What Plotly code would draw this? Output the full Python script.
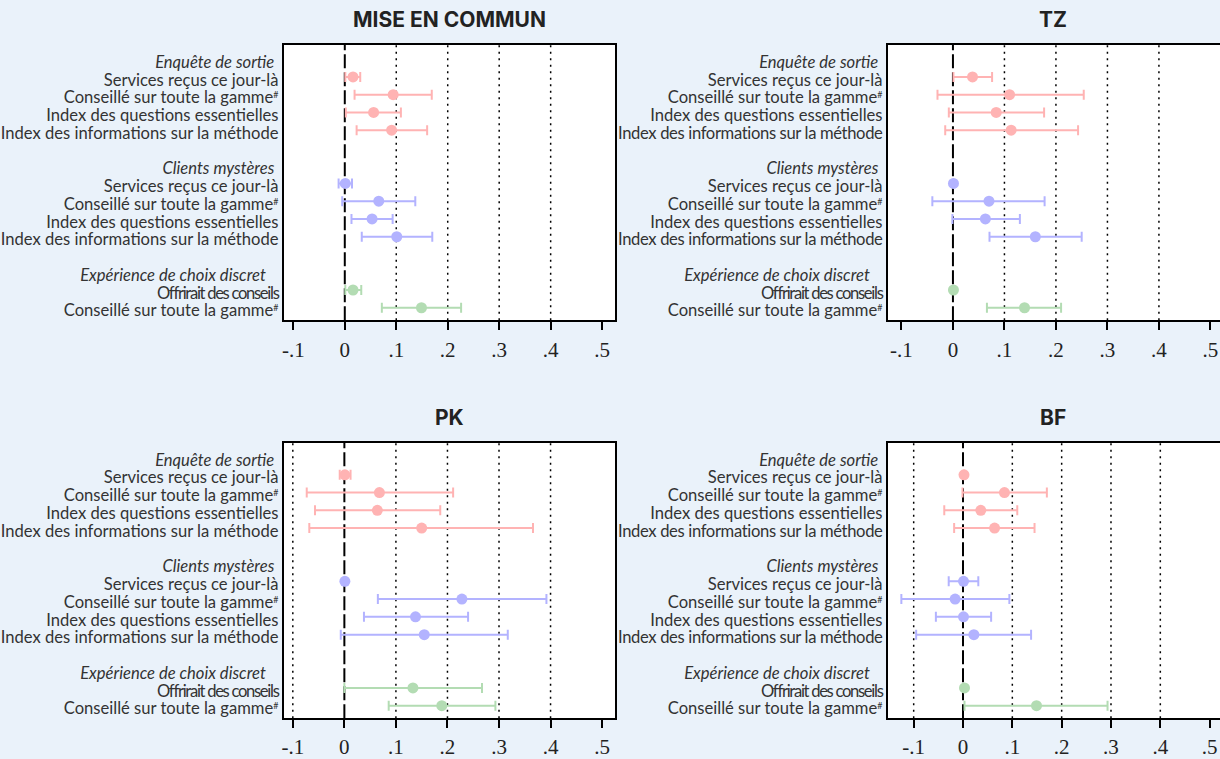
import plotly.graph_objects as go

# Small raised "#" marker used after "gamme"
HASH = "<span style=\"font-size:9px;baseline-shift:5px\">#</span>"

# Row labels (top to bottom) and their row positions; rows 5 and 11 are spacers
ROW_LABELS = [
    "<i>Enquête de sortie</i>\u00a0",
    "Services reçus ce jour-là",
    "Conseillé sur toute la gamme" + HASH,
    "Index des questions essentielles",
    "Index des informations sur la méthode",
    "<i>Clients mystères</i>\u00a0",
    "Services reçus ce jour-là",
    "Conseillé sur toute la gamme" + HASH,
    "Index des questions essentielles",
    "Index des informations sur la méthode",
    "<i>Expérience de choix discret</i>\u00a0\u00a0\u00a0",
    "<span style=\"letter-spacing:-1.3px\">Offrirait des conseils</span>",
    "Conseillé sur toute la gamme" + HASH,
]
ROW_POS = [0, 1, 2, 3, 4, 6, 7, 8, 9, 10, 12, 13, 14]

# Right-hand panels: the longest label is set a little tighter to stay clear of the left box
TIGHT = "<span style=\"letter-spacing:-0.35px\">{}</span>"
ROW_LABELS_RIGHT = [TIGHT.format(t) if t.startswith("Index des informations") else t
                    for t in ROW_LABELS]

# Positions of the ten estimated outcomes and the source group of each
ITEM_POS = [1, 2, 3, 4, 7, 8, 9, 10, 13, 14]
GROUPS = {
    "sortie": [0, 1, 2, 3],
    "mysteres": [4, 5, 6, 7],
    "choix": [8, 9],
}
GROUP_COLORS = {"sortie": "#FFB3B3", "mysteres": "#B3B3FF", "choix": "#B3DCB3"}

# Point estimates and 95% confidence bounds (None = no interval)
POOLED_EST = [0.016, 0.094, 0.056, 0.091, 0.001, 0.066, 0.053, 0.101, 0.016, 0.149]
POOLED_LO = [0.001, 0.019, 0.002, 0.023, -0.012, -0.005, 0.013, 0.033, 0.001, 0.072]
POOLED_HI = [0.030, 0.169, 0.109, 0.160, 0.014, 0.137, 0.093, 0.170, 0.032, 0.226]

TZ_EST = [0.038, 0.110, 0.084, 0.113, 0.001, 0.070, 0.063, 0.160, 0.001, 0.139]
TZ_LO = [0.001, -0.030, -0.008, -0.015, None, -0.040, -0.001, 0.071, None, 0.066]
TZ_HI = [0.076, 0.254, 0.177, 0.243, None, 0.178, 0.130, 0.250, None, 0.210]

PK_EST = [0.001, 0.068, 0.064, 0.150, 0.001, 0.228, 0.138, 0.155, 0.133, 0.189]
PK_LO = [-0.009, -0.073, -0.057, -0.068, None, 0.065, 0.038, -0.007, 0.000, 0.086]
PK_HI = [0.012, 0.211, 0.186, 0.366, None, 0.392, 0.240, 0.317, 0.267, 0.293]

BF_EST = [0.002, 0.084, 0.036, 0.064, 0.001, -0.016, 0.001, 0.022, 0.003, 0.149]
BF_LO = [None, -0.001, -0.038, -0.018, -0.029, -0.125, -0.055, -0.095, None, 0.003]
BF_HI = [None, 0.170, 0.110, 0.145, 0.031, 0.094, 0.057, 0.138, None, 0.293]

TICK_VALS = [-0.1, 0, 0.1, 0.2, 0.3, 0.4, 0.5]
TICK_TEXT = ["-.1", "0", ".1", ".2", ".3", ".4", ".5"]

W, H = 1220, 759
Y_RANGE = [14.706, -0.812]
LABEL_SHIFT = 0.16  # row labels sit slightly below the marker rows

# title, data, box in pixels (x0, x1, y0, y1), x range, dotted reference lines
panels = [
    ("MISE EN COMMUN", (POOLED_EST, POOLED_LO, POOLED_HI), (282, 614, 45, 322),
     [-0.119, 0.525], [0.1, 0.2, 0.3, 0.4]),
    ("TZ", (TZ_EST, TZ_LO, TZ_HI), (887, 1220, 45, 322),
     [-0.127, 0.5186], [0.1, 0.2, 0.3, 0.4]),
    ("PK", (PK_EST, PK_LO, PK_HI), (282, 614, 445, 722),
     [-0.118, 0.525], [-0.1, 0.1, 0.2, 0.3, 0.4]),
    ("BF", (BF_EST, BF_LO, BF_HI), (887, 1220, 445, 722),
     [-0.153, 0.521], [-0.1, 0.1, 0.2, 0.3, 0.4]),
]

fig = go.Figure()
shapes = []
annotations = []
layout_axes = {}

for i, (title, (est, lo, hi), (px0, px1, py0, py1), xr, grid) in enumerate(panels):
    n = "" if i == 0 else str(i + 1)
    xa, ya = "x" + n, "y" + n
    ln = str(i + 5)
    la = "y" + ln
    for g, idxs in GROUPS.items():
        xs = [est[k] for k in idxs]
        ys = [ITEM_POS[k] for k in idxs]
        plus = [None if hi[k] is None else hi[k] - est[k] for k in idxs]
        minus = [None if lo[k] is None else est[k] - lo[k] for k in idxs]
        fig.add_trace(go.Scatter(
            x=xs, y=ys, mode="markers", xaxis=xa, yaxis=ya,
            marker=dict(size=11, color=GROUP_COLORS[g]),
            error_x=dict(type="data", symmetric=False, array=plus, arrayminus=minus,
                         color=GROUP_COLORS[g], thickness=2, width=5),
            showlegend=False, hoverinfo="skip",
        ))
    # empty trace so the label axis is drawn
    fig.add_trace(go.Scatter(x=[], y=[], xaxis=xa, yaxis=la, showlegend=False,
                             hoverinfo="skip"))
    right_panel = px1 >= W
    layout_axes["xaxis" + n] = dict(
        domain=[px0 / W, px1 / W], range=xr, anchor=ya,
        tickvals=TICK_VALS, ticktext=TICK_TEXT,
        ticks="outside", ticklen=8, tickwidth=2, tickcolor="black",
        showline=True, linecolor="black", linewidth=2, mirror=True,
        showgrid=False, zeroline=False, ticklabelstandoff=1,
        tickfont=dict(family="Liberation Serif", size=21, color="#222222"),
    )
    layout_axes["yaxis" + n] = dict(
        domain=[1 - py1 / H, 1 - py0 / H], range=Y_RANGE, anchor=xa,
        showticklabels=False, ticks="",
        showline=True, linecolor="black", linewidth=2, mirror=not right_panel,
        showgrid=False, zeroline=False,
    )
    layout_axes["yaxis" + ln] = dict(
        overlaying=ya, anchor=xa, side="left",
        range=[Y_RANGE[0] - LABEL_SHIFT, Y_RANGE[1] - LABEL_SHIFT],
        tickvals=ROW_POS, ticktext=ROW_LABELS_RIGHT if right_panel else ROW_LABELS,
        ticks="", showline=False, showgrid=False, zeroline=False, ticklabelstandoff=4,
        tickfont=dict(family="Lato", size=16.6, color="#333333"),
    )
    for gx in grid:
        shapes.append(dict(type="line", xref=xa, yref=ya + " domain", x0=gx, x1=gx,
                           y0=0, y1=1, layer="below",
                           line=dict(color="black", width=1.5, dash="2px,4.5px")))
    shapes.append(dict(type="line", xref=xa, yref=ya + " domain", x0=0, x1=0,
                       y0=0, y1=1, layer="below",
                       line=dict(color="black", width=2, dash="14px,4px")))
    cx = (px0 + px1) / 2 if not right_panel else (px0 + 1219) / 2
    annotations.append(dict(text="<b>" + title + "</b>", xref="paper", yref="paper",
                            x=cx / W, y=1 - (py0 - 25) / H, xanchor="center", yanchor="middle",
                            showarrow=False,
                            font=dict(family="Inter", size=21, color="#222222")))

fig.update_layout(
    width=W, height=H, margin=dict(l=0, r=0, t=0, b=0),
    paper_bgcolor="#EAF2FA", plot_bgcolor="white",
    shapes=shapes, annotations=annotations, showlegend=False,
    **layout_axes,
)

fig.write_html("out.html")
